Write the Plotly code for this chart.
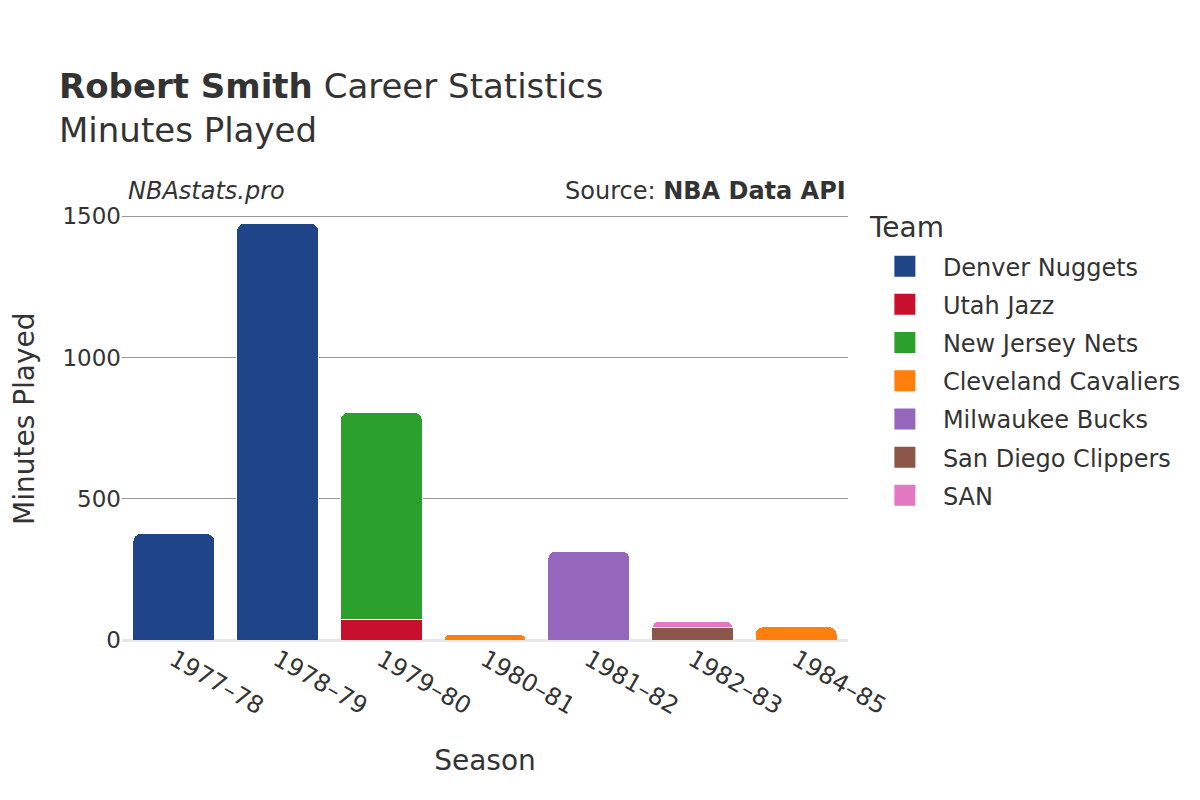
import plotly.graph_objects as go

seasons = ["1977–78", "1978–79", "1979–80", "1980–81", "1981–82", "1982–83", "1984–85"]
teams = ["Denver Nuggets", "Utah Jazz", "New Jersey Nets", "Cleveland Cavaliers",
         "Milwaukee Bucks", "San Diego Clippers", "SAN"]
colors = ["#1f4488", "#c8102e", "#2ca02c", "#ff7f0e", "#9467bd", "#8c564b", "#e377c2"]

denver = [377, 1476, None, None, None, None, None]
utah = [None, None, 73, None, None, None, None]
nets = [None, None, 733, None, None, None, None]
cavs = [None, None, None, 19, None, None, 47]
bucks = [None, None, None, None, 315, None, None]
clippers = [None, None, None, None, None, 43, None]
san = [None, None, None, None, None, 24, None]
series = [denver, utah, nets, cavs, bucks, clippers, san]

fig = go.Figure()
for name, vals, c in zip(teams, series, colors):
    fig.add_trace(go.Bar(x=seasons, y=vals, name=name, marker_color=c,
                         marker_line_color="white", marker_line_width=1,
                         legendgroup=name, showlegend=False))
for name, c in zip(teams, colors):
    fig.add_trace(go.Scatter(x=[None], y=[None], mode="markers", name=name,
                             legendgroup=name,
                             marker=dict(symbol="square", size=16, color=c,
                                         line=dict(width=6, color=c))))

font = "DejaVu Sans"
fig.update_layout(
    width=1200, height=800,
    barmode="stack", barcornerradius=8, bargap=0.21,
    plot_bgcolor="white", paper_bgcolor="white",
    font=dict(family=font, size=22, color="#333333"),
    title=dict(text="<b>Robert Smith</b> Career Statistics<br>Minutes Played",
               x=0.0425, xanchor="left", y=0.8875, yanchor="top",
               font=dict(size=34, color="#333333")),
    margin=dict(l=114, r=360, t=180, b=168),
    legend=dict(x=1.026, y=0.876,
                yanchor="top", font=dict(size=24), traceorder="grouped",
                tracegroupgap=4, itemwidth=66),
    xaxis=dict(title=dict(text="Season", font=dict(size=28), standoff=30), tickangle=30,
               tickfont=dict(size=24), showline=False, automargin=False),
    yaxis=dict(range=[0, 1600], tickvals=[0, 500, 1000, 1500],
               gridcolor="#999999", gridwidth=1, zeroline=True, automargin=False,
               zerolinecolor="#e6e6e6", zerolinewidth=3, tickfont=dict(size=23)),
    annotations=[
        dict(text="Minutes Played", xref="paper", yref="paper", x=0, y=0.489,
             xanchor="center", yanchor="middle", xshift=-97, textangle=-90,
             showarrow=False, font=dict(size=28)),
        dict(text="<i>NBAstats.pro</i>", xref="paper", yref="paper", x=0.005, y=1.0,
             xanchor="left", yanchor="middle", yshift=-3, showarrow=False,
             font=dict(size=24)),
        dict(text="Source: <b>NBA Data API</b>", xref="paper", yref="paper", x=1.0, y=1.0,
             xanchor="right", yanchor="middle", yshift=-3, showarrow=False,
             font=dict(size=24)),
        dict(text="Team", xref="paper", yref="paper", x=1.026, y=0.9137,
             xanchor="left", yanchor="middle", showarrow=False,
             font=dict(size=28)),
    ],
)
fig.write_html("out.html")
